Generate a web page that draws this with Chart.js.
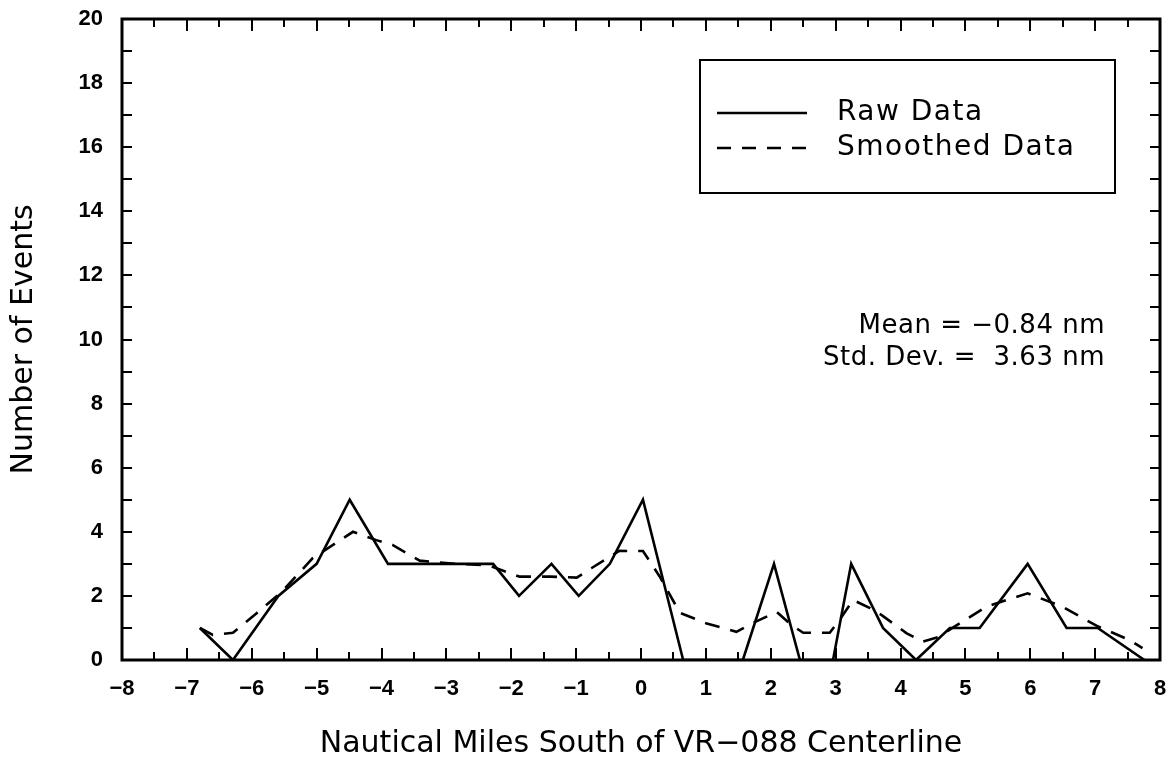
<!DOCTYPE html>
<html><head><meta charset="utf-8">
<script src="https://cdn.jsdelivr.net/npm/chart.js@4.4.0/dist/chart.umd.min.js"></script>
<style>html,body{margin:0;padding:0;background:#fff;}canvas{display:block;}</style>
</head><body>
<canvas id="c" width="1175" height="767"></canvas>
<script>
const rawX = [-6.8,-6.29,-5.59,-5.0,-4.49,-3.9,-2.28,-1.88,-1.38,-0.96,-0.48,0.03,0.65,1.57,2.05,2.45,2.96,3.24,3.73,4.24,4.76,5.22,5.96,6.56,7.04,7.76];
const rawY = [1,0,2,3,5,3,3,2,3,2,3,5,0,0,3,0,0,3,1,0,1,1,3,1,1,0];
const smoothX = [-6.8,-6.6,-6.29,-5.92,-5.55,-5.06,-4.44,-4.08,-3.83,-3.41,-2.86,-2.41,-2.28,-1.87,-1.4,-0.99,-0.76,-0.33,-0.2,0.03,0.29,0.6,1.0,1.47,1.72,2.09,2.32,2.5,2.91,3.06,3.27,3.53,3.71,4.09,4.34,4.6,4.8,5.32,5.63,5.96,6.5,7.02,7.53,7.73];
const smoothY = [1.0,0.78,0.85,1.47,2.1,3.18,4.0,3.74,3.59,3.1,3.0,2.96,2.9,2.6,2.6,2.57,2.87,3.41,3.4,3.4,2.6,1.47,1.15,0.88,1.15,1.5,1.09,0.85,0.85,1.25,1.87,1.62,1.4,0.84,0.57,0.73,1.0,1.66,1.87,2.08,1.66,1.07,0.62,0.37];
const xTicks = [-8,-7,-6,-5,-4,-3,-2,-1,0,1,2,3,4,5,6,7,8];
const yTicks = [0,2,4,6,8,10,12,14,16,18,20];
const seriesNames = ['Raw Data','Smoothed Data'];
const xTitle = 'Nautical Miles South of VR\u2212088 Centerline';
const yTitle = 'Number of Events';
const statLines = ['Mean = \u22120.84 nm','Std. Dev. =  3.63 nm'];

const toPts = (xs, ys) => xs.map((x, i) => ({x: x, y: ys[i]}));
const fmt = v => v < 0 ? '\u2212' + Math.abs(v) : String(v);
const TITLE_FONT = '"DejaVu Sans", sans-serif';
const TICK_FONT = {family: '"Liberation Sans", Arial, sans-serif', size: 22, weight: 'bold'};

const framePlugin = {
  id: 'frame',
  afterDatasetsDraw(chart) {
    const {ctx, chartArea: a, scales: {x, y}} = chart;
    ctx.save();
    ctx.strokeStyle = '#000';
    ctx.lineWidth = 3;
    ctx.strokeRect(a.left, a.top, a.right - a.left, a.bottom - a.top);
    ctx.lineWidth = 2;
    ctx.beginPath();
    for (let v = xTicks[0]; v <= xTicks[xTicks.length - 1] + 1e-9; v += 0.5) {
      const px = Math.round(x.getPixelForValue(v));
      const len = Number.isInteger(v) ? 12 : 8;
      ctx.moveTo(px, a.bottom); ctx.lineTo(px, a.bottom - len);
      ctx.moveTo(px, a.top); ctx.lineTo(px, a.top + len);
    }
    for (let v = yTicks[0]; v <= yTicks[yTicks.length - 1]; v += 1) {
      const py = Math.round(y.getPixelForValue(v));
      ctx.moveTo(a.left, py); ctx.lineTo(a.left + 10, py);
      ctx.moveTo(a.right, py); ctx.lineTo(a.right - 10, py);
    }
    ctx.stroke();

    // legend box
    const bx = 700, by = 60, bw = 415, bh = 133;
    ctx.lineWidth = 2;
    ctx.strokeRect(bx, by, bw, bh);
    ctx.lineWidth = 2.5;
    ctx.beginPath(); ctx.moveTo(717, 113); ctx.lineTo(807, 113); ctx.stroke();
    ctx.setLineDash([14, 11]);
    ctx.beginPath(); ctx.moveTo(717, 148); ctx.lineTo(807, 148); ctx.stroke();
    ctx.setLineDash([]);
    ctx.fillStyle = '#000';
    ctx.font = '28px ' + TITLE_FONT;
    ctx.letterSpacing = '1.5px';
    ctx.textAlign = 'left'; ctx.textBaseline = 'middle';
    ctx.fillText(seriesNames[0], 837, 113);
    ctx.fillText(seriesNames[1], 837, 148);

    ctx.font = '26px ' + TITLE_FONT;
    ctx.letterSpacing = '0.5px';
    ctx.textAlign = 'right';
    ctx.fillText(statLines[0], 1105, 326);
    ctx.fillText(statLines[1], 1105, 358);
    ctx.restore();
  }
};

new Chart(document.getElementById('c'), {
  type: 'scatter',
  data: {
    datasets: [
      {label: seriesNames[0], data: toPts(rawX, rawY), showLine: true, borderColor: '#000', backgroundColor: '#000', borderWidth: 2.6, pointRadius: 0, tension: 0},
      {label: seriesNames[1], data: toPts(smoothX, smoothY), showLine: true, borderColor: '#000', backgroundColor: '#000', borderWidth: 2.6, borderDash: [15, 11], pointRadius: 0, tension: 0}
    ]
  },
  options: {
    responsive: false,
    animation: false,
    devicePixelRatio: 1,
    layout: {padding: {top: 19, right: 15, left: 0, bottom: 0}},
    plugins: {legend: {display: false}, tooltip: {enabled: false}},
    scales: {
      x: {
        type: 'linear', min: xTicks[0], max: xTicks[xTicks.length - 1],
        afterBuildTicks: s => { s.ticks = xTicks.map(v => ({value: v})); },
        afterFit: s => { s.height = 107; s.paddingLeft = 0; s.paddingRight = 0; },
        grid: {display: false, drawTicks: false},
        border: {display: false},
        ticks: {callback: fmt, color: '#000', padding: 16, maxRotation: 0, font: TICK_FONT},
        title: {display: true, text: xTitle, color: '#000', padding: {top: 0, bottom: 5}, font: {family: TITLE_FONT, size: 30}}
      },
      y: {
        type: 'linear', min: yTicks[0], max: yTicks[yTicks.length - 1],
        afterBuildTicks: s => { s.ticks = yTicks.map(v => ({value: v})); },
        afterFit: s => { s.width = 122; s.paddingTop = 0; s.paddingBottom = 0; },
        grid: {display: false, drawTicks: false},
        border: {display: false},
        ticks: {callback: fmt, color: '#000', padding: 19, font: TICK_FONT},
        title: {display: true, text: yTitle, color: '#000', padding: {top: 6, bottom: 0}, font: {family: TITLE_FONT, size: 30}}
      }
    }
  },
  plugins: [framePlugin]
});
</script>
</body></html>
